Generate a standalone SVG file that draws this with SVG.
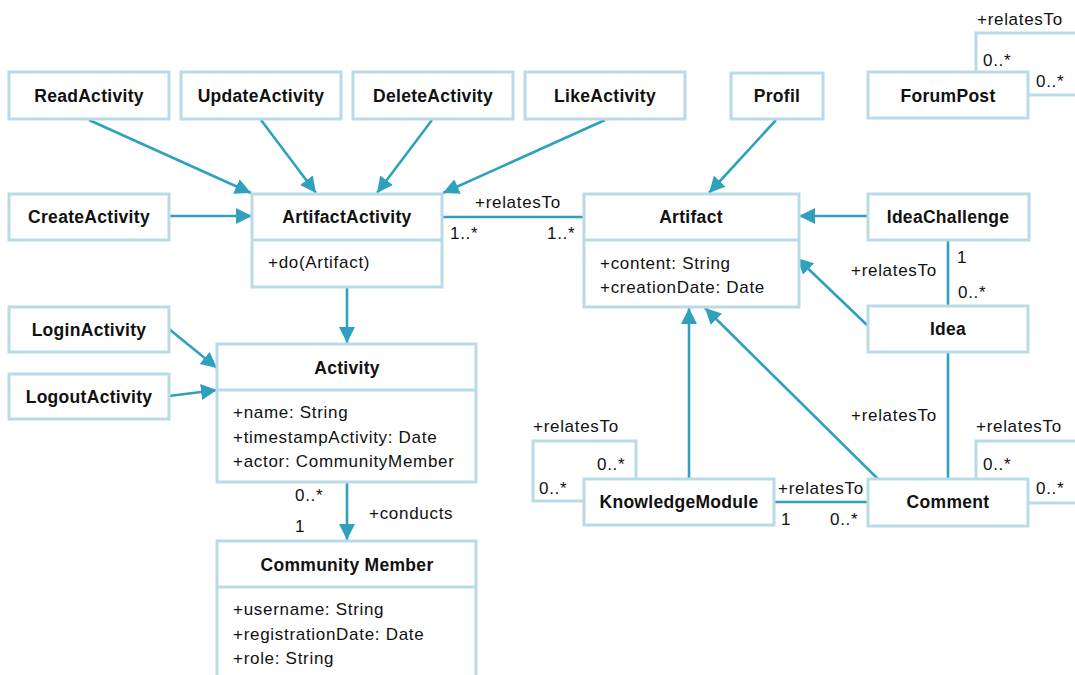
<svg xmlns="http://www.w3.org/2000/svg" width="1075" height="675" viewBox="0 0 1075 675">
<style>
.box{fill:#fff;stroke:#b9dbe7;stroke-width:3}
.div{stroke:#b9dbe7;stroke-width:3}
.t{font-family:"Liberation Sans",Arial,sans-serif;font-size:17.5px;font-weight:bold;letter-spacing:0.3px;fill:#111;text-anchor:middle}
.a{font-family:"Liberation Sans",Arial,sans-serif;font-size:17px;letter-spacing:0.7px;fill:#111}
.c{stroke:#30a1bd;stroke-width:2.6;fill:none}
.loop{stroke:#b9dbe7;stroke-width:3;fill:none}
</style>
<defs>
<marker id="ah" markerUnits="userSpaceOnUse" markerWidth="18" markerHeight="18" viewBox="0 0 18 18" refX="16" refY="9" orient="auto">
<path d="M0,1 L16,9 L0,17 Z" fill="#30a1bd"/>
</marker>
</defs>
<g id="loops">
<path class="loop" d="M976,72 V33 H1080 M1028,95 H1080"/>
<path class="loop" d="M636,479 V441 H533 V501 H584"/>
<path class="loop" d="M976,479 V441 H1080 M1028,503 H1080"/>
</g>
<g id="connectors">
<line class="c" x1="89" y1="120" x2="251" y2="193" marker-end="url(#ah)"/>
<line class="c" x1="261" y1="120" x2="316" y2="193" marker-end="url(#ah)"/>
<line class="c" x1="432" y1="120" x2="377" y2="193" marker-end="url(#ah)"/>
<line class="c" x1="605" y1="120" x2="443" y2="193" marker-end="url(#ah)"/>
<line class="c" x1="169" y1="216" x2="252" y2="216" marker-end="url(#ah)"/>
<line class="c" x1="776" y1="120" x2="709" y2="193" marker-end="url(#ah)"/>
<line class="c" x1="868" y1="216" x2="799" y2="216" marker-end="url(#ah)"/>
<line class="c" x1="867" y1="325" x2="797" y2="258" marker-end="url(#ah)"/>
<line class="c" x1="689" y1="479" x2="689" y2="308" marker-end="url(#ah)"/>
<line class="c" x1="878" y1="479" x2="705" y2="308" marker-end="url(#ah)"/>
<line class="c" x1="948" y1="352" x2="948" y2="479"/>
<line class="c" x1="948" y1="240" x2="948" y2="306"/>
<line class="c" x1="774" y1="502" x2="868" y2="502"/>
<line class="c" x1="442" y1="217" x2="584" y2="217"/>
<line class="c" x1="347" y1="287" x2="347" y2="343" marker-end="url(#ah)"/>
<line class="c" x1="169" y1="329" x2="217" y2="368" marker-end="url(#ah)"/>
<line class="c" x1="169" y1="396" x2="217" y2="390" marker-end="url(#ah)"/>
<line class="c" x1="347" y1="482" x2="347" y2="540" marker-end="url(#ah)"/>
</g>
<g id="labels" class="a">
<text x="977" y="25">+relatesTo</text>
<text x="983" y="66">0..*</text>
<text x="1036" y="87">0..*</text>
<text x="533" y="432">+relatesTo</text>
<text x="597" y="470">0..*</text>
<text x="539" y="494">0..*</text>
<text x="976" y="432">+relatesTo</text>
<text x="983" y="470">0..*</text>
<text x="1036" y="494">0..*</text>
<text x="851" y="421">+relatesTo</text>
<text x="851" y="276">+relatesTo</text>
<text x="957" y="263">1</text>
<text x="958" y="298">0..*</text>
<text x="778" y="494">+relatesTo</text>
<text x="781" y="525">1</text>
<text x="830" y="525">0..*</text>
<text x="475" y="208">+relatesTo</text>
<text x="450" y="239">1..*</text>
<text x="547" y="239">1..*</text>
<text x="295" y="501">0..*</text>
<text x="295" y="532">1</text>
<text x="369" y="519">+conducts</text>
</g>
<g id="ReadActivity"><rect class="box" x="9" y="72" width="160" height="47"/><text class="t" x="89" y="102">ReadActivity</text></g>
<g id="UpdateActivity"><rect class="box" x="181" y="72" width="160" height="47"/><text class="t" x="261" y="102">UpdateActivity</text></g>
<g id="DeleteActivity"><rect class="box" x="353" y="72" width="160" height="47"/><text class="t" x="433" y="102">DeleteActivity</text></g>
<g id="LikeActivity"><rect class="box" x="525" y="72" width="160" height="47"/><text class="t" x="605" y="102">LikeActivity</text></g>
<g id="Profil"><rect class="box" x="731" y="73" width="92" height="46"/><text class="t" x="777" y="102">Profil</text></g>
<g id="ForumPost"><rect class="box" x="868" y="72" width="160" height="46"/><text class="t" x="948" y="102">ForumPost</text></g>
<g id="CreateActivity"><rect class="box" x="9" y="194" width="160" height="46"/><text class="t" x="89" y="223">CreateActivity</text></g>
<g id="ArtifactActivity"><rect class="box" x="252" y="194" width="190" height="93"/><line class="div" x1="252" y1="240" x2="442" y2="240"/><text class="t" x="347" y="223">ArtifactActivity</text><text class="a" x="268" y="268">+do(Artifact)</text></g>
<g id="Artifact"><rect class="box" x="584" y="194" width="215" height="113"/><line class="div" x1="584" y1="240" x2="799" y2="240"/><text class="t" x="691" y="223">Artifact</text><text class="a" x="600" y="269">+content: String</text><text class="a" x="600" y="293">+creationDate: Date</text></g>
<g id="IdeaChallenge"><rect class="box" x="868" y="194" width="161" height="46"/><text class="t" x="948" y="223">IdeaChallenge</text></g>
<g id="Idea"><rect class="box" x="868" y="306" width="160" height="46"/><text class="t" x="948" y="335">Idea</text></g>
<g id="LoginActivity"><rect class="box" x="9" y="307" width="160" height="45"/><text class="t" x="89" y="336">LoginActivity</text></g>
<g id="LogoutActivity"><rect class="box" x="9" y="374" width="160" height="45"/><text class="t" x="89" y="403">LogoutActivity</text></g>
<g id="Activity"><rect class="box" x="217" y="344" width="259" height="138"/><line class="div" x1="217" y1="390" x2="476" y2="390"/><text class="t" x="347" y="374">Activity</text><text class="a" x="233" y="418">+name: String</text><text class="a" x="233" y="443">+timestampActivity: Date</text><text class="a" x="233" y="467">+actor: CommunityMember</text></g>
<g id="CommunityMember"><rect class="box" x="217" y="541" width="259" height="150"/><line class="div" x1="217" y1="587" x2="476" y2="587"/><text class="t" x="347" y="571">Community Member</text><text class="a" x="233" y="615">+username: String</text><text class="a" x="233" y="640">+registrationDate: Date</text><text class="a" x="233" y="664">+role: String</text></g>
<g id="KnowledgeModule"><rect class="box" x="584" y="479" width="190" height="46"/><text class="t" x="679" y="508">KnowledgeModule</text></g>
<g id="Comment"><rect class="box" x="868" y="479" width="160" height="47"/><text class="t" x="948" y="508">Comment</text></g>
</svg>
